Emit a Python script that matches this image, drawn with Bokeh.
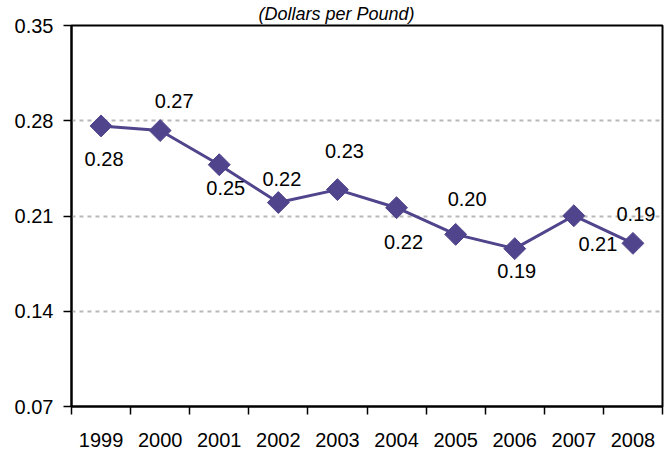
import math
from bokeh.plotting import figure
from bokeh.models import Range1d, FixedTicker, PrintfTickFormatter, ColumnDataSource
from bokeh.core.properties import value
from bokeh.embed import file_html
from bokeh.resources import INLINE

# ---- data ----
years = ["1999", "2000", "2001", "2002", "2003", "2004", "2005", "2006", "2007", "2008"]
prices = [0.2762, 0.2728, 0.2477, 0.2199, 0.2294, 0.2161, 0.1965, 0.1860, 0.2102, 0.1899]
y_ticks = [0.07, 0.14, 0.21, 0.28, 0.35]
subtitle = "(Dollars per Pound)"

# label placement offsets (pixels, screen direction) -- styling only
label_dx = [3, 14, 6.5, 3.5, 7, 7, 11.5, 2, 24, 3]
label_dy = [33, -30, 23.5, -23.5, -39, 34, -35.5, 22, 28, -29]

FONT = "Liberation Sans"
PURPLE = "#50458C"

xs = [i + 0.5 for i in range(len(years))]
src = ColumnDataSource(dict(
    x=xs, y=prices, label=[f"{v:.2f}" for v in prices], dx=label_dx, dy=label_dy,
))

p = figure(width=669, height=450,
           x_range=Range1d(0, len(years)), y_range=Range1d(y_ticks[0], y_ticks[-1]),
           output_backend="svg", toolbar_location=None,
           min_border_left=71, min_border_right=7, min_border_top=25, min_border_bottom=44)
p.background_fill_color = "white"
p.border_fill_color = "white"
p.outline_line_color = "black"
p.outline_line_width = 2

p.title.text = subtitle
p.title.align = "left"
p.title.offset = 187
p.title.standoff = 3
p.title.text_font = FONT
p.title.text_font_style = "italic"
p.title.text_font_size = "18px"
p.title.text_color = "black"

# x axis: labels at category centres, tick marks at boundaries
xa = p.xaxis[0]
xa.ticker = FixedTicker(ticks=xs, minor_ticks=list(range(len(years) + 1)))
xa.major_label_overrides = {x: y for x, y in zip(xs, years)}
xa.major_tick_out = 0
xa.major_tick_in = 0
xa.minor_tick_out = 8
xa.minor_tick_in = 0
xa.minor_tick_line_color = "black"
xa.minor_tick_line_width = 1.5
xa.axis_line_color = "black"
xa.axis_line_width = 2
xa.major_label_standoff = 18
xa.major_label_text_font = FONT
xa.major_label_text_font_size = "20px"
xa.major_label_text_color = "black"

ya = p.yaxis[0]
ya.ticker = FixedTicker(ticks=y_ticks, minor_ticks=[])
ya.formatter = PrintfTickFormatter(format="%.2f")
ya.major_tick_out = 8
ya.major_tick_in = 0
ya.major_tick_line_color = "black"
ya.major_tick_line_width = 1.5
ya.minor_tick_line_color = None
ya.axis_line_color = "black"
ya.axis_line_width = 2
ya.major_label_standoff = 10
ya.major_label_text_font = FONT
ya.major_label_text_font_size = "20px"
ya.major_label_text_color = "black"

p.xgrid.visible = False
p.ygrid.grid_line_color = "#b8b8b8"
p.ygrid.grid_line_dash = "4 4"
p.ygrid.grid_line_width = 2

p.line("x", "y", source=src, line_color=PURPLE, line_width=3)
p.scatter("x", "y", source=src, marker="square", angle=math.pi / 4, size=15.5,
          fill_color=PURPLE, line_color=PURPLE)

p.text("x", "y", text="label", source=src, x_offset="dx", y_offset="dy",
       text_align="center", text_baseline="middle",
       text_font=value(FONT), text_font_size="20px", text_color="black")

open("out.html", "w").write(file_html(p, INLINE))
